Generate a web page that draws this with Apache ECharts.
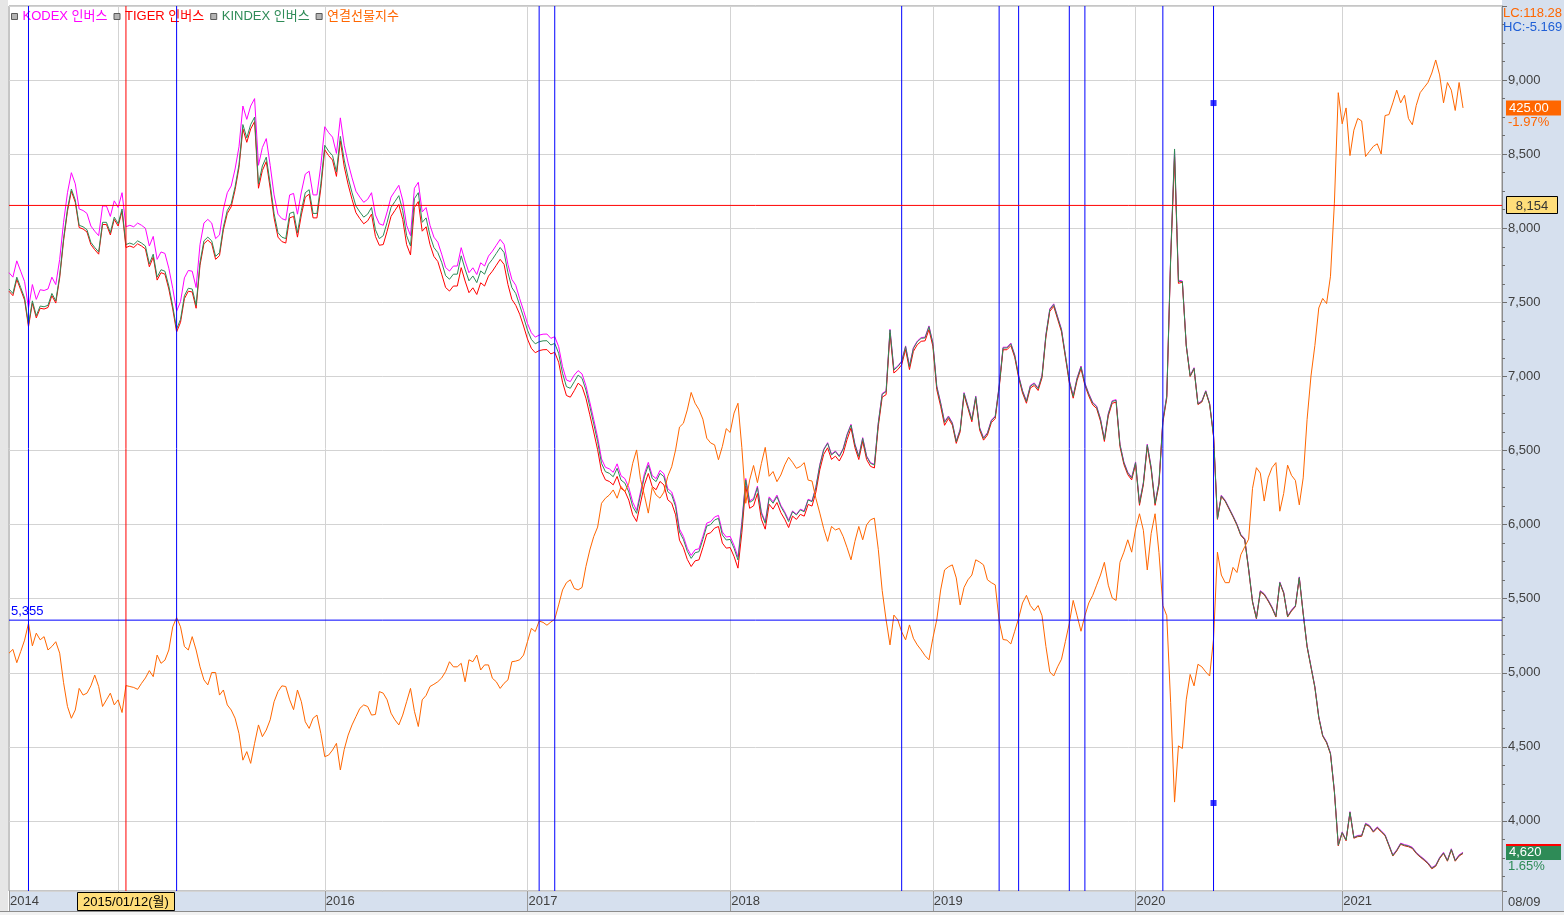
<!DOCTYPE html>
<html lang="ko">
<head>
<meta charset="utf-8">
<title>인버스 ETF / 연결선물지수</title>
<script src="https://cdn.jsdelivr.net/npm/echarts@6/dist/echarts.min.js"></script>
<style>
html,body{margin:0;padding:0;background:#ffffff;overflow:hidden;}
#chart{width:1564px;height:915px;}
</style>
</head>
<body>
<div id="chart"></div>
<script>
// ---------- categories (weekly bars) ----------
const firstWeek = '2014/06/16';
const slotCount = 384;               // weekly slots on the axis (incl. empty right margin)
const categories = (function () {
  const out = [];
  const p = firstWeek.split('/').map(Number);
  let t = Date.UTC(p[0], p[1] - 1, p[2]);
  for (let i = 0; i < slotCount; i++) {
    const d = new Date(t);
    out.push(d.getUTCFullYear() + '/' + String(d.getUTCMonth() + 1).padStart(2, '0') + '/' + String(d.getUTCDate()).padStart(2, '0'));
    t += 7 * 86400000;
  }
  return out;
})();

// ---------- tick labels ----------
const yearTickIdx = [0, 28, 81, 133, 185, 237, 289, 342];
const yearTickLabels = ['2014', '2015', '2016', '2017', '2018', '2019', '2020', '2021'];

// ---------- series names / colours ----------
const seriesNames = ['KODEX 인버스', 'TIGER 인버스', 'KINDEX 인버스', '연결선물지수'];
const seriesColors = ['#ff00ff', '#ff0000', '#2e8b57', '#ff6600'];

// ---------- values (weekly) ----------
const kodex = [
7700,7670,7780,7710,7640,7460,7620,7520,7585,7580,
7590,7670,7620,7790,8040,8240,8375,8300,8130,8120,
8100,8015,7980,7950,8150,8150,8080,8185,8140,8240,
8010,8020,8010,8035,8020,8000,7880,7945,7790,7840,
7830,7730,7595,7440,7505,7665,7715,7710,7600,7890,
8035,8060,8035,7930,7955,8130,8240,8285,8400,8550,
8825,8735,8825,8875,8425,8545,8605,8425,8225,8095,
8065,8055,8225,8235,8095,8245,8365,8385,8225,8225,
8425,8685,8645,8615,8505,8745,8560,8440,8340,8250,
8210,8175,8195,8240,8090,8030,8020,8110,8210,8250,
8290,8190,8020,7950,8270,8310,8110,8140,8020,7940,
7906,7825,7735,7711,7745,7745,7869,7779,7700,7733,
7688,7767,7745,7812,7845,7885,7925,7891,7755,7655,
7615,7525,7445,7358,7295,7265,7279,7285,7286,7257,
7268,7201,7066,6976,6965,7009,7039,7017,6938,6826,
6710,6590,6443,6387,6376,6353,6410,6330,6310,6250,
6151,6096,6220,6343,6420,6332,6310,6366,6343,6242,
6220,6141,5970,5920,5840,5792,5830,5837,5920,6010,
6020,6051,6062,5950,5916,5920,5860,5781,6020,6311,
6160,6176,6260,6086,6019,6187,6154,6199,6131,6086,
6030,6092,6070,6104,6092,6171,6160,6255,6405,6509,
6553,6475,6497,6464,6515,6610,6677,6545,6464,6587,
6464,6418,6407,6688,6885,6902,7318,7048,7071,7104,
7206,7071,7194,7239,7262,7265,7341,7228,6936,6823,
6695,6733,6688,6565,6643,6891,6801,6711,6868,6655,
6587,6621,6705,6733,6936,7197,7197,7225,7146,7008,
6905,6836,6939,6956,6922,7008,7283,7456,7490,7404,
7318,7146,6974,6870,6991,7070,6956,6885,6825,6801,
6715,6578,6750,6836,6843,6543,6423,6354,6319,6423,
6147,6285,6543,6388,6147,6285,6705,6870,7805,8520,
7650,7644,7214,7007,7059,6818,6835,6904,6818,6604,
6043,6198,6164,6112,6060,6004,5934,5905,5704,5484,
5372,5554,5534,5492,5444,5384,5613,5544,5384,5424,
5454,5647,5404,5182,5044,4907,4704,4580,4535,4459,
4204,3840,3926,3874,4063,3891,3902,3904,3984,3970,
3932,3960,3934,3908,3840,3771,3805,3850,3840,3834,
3822,3788,3764,3743,3719,3685,3702,3754,3788,3736,
3812,3736,3771,3788
];
const tiger = [
7575,7545,7655,7585,7515,7335,7495,7395,7460,7455,
7465,7545,7495,7665,7915,8115,8250,8175,8005,7995,
7975,7890,7855,7825,8025,8025,7955,8060,8015,8115,
7870,7880,7870,7895,7880,7860,7740,7805,7650,7700,
7690,7590,7455,7300,7365,7525,7575,7570,7460,7750,
7895,7920,7895,7790,7815,7990,8100,8145,8260,8410,
8670,8580,8670,8720,8270,8390,8450,8270,8070,7940,
7910,7900,8070,8080,7940,8090,8210,8230,8070,8070,
8270,8530,8490,8460,8350,8590,8415,8295,8195,8105,
8065,8030,8050,8095,7945,7885,7890,7980,8080,8120,
8160,8060,7890,7820,8140,8180,7980,8010,7890,7810,
7776,7690,7600,7576,7610,7610,7734,7644,7565,7598,
7553,7632,7610,7677,7710,7750,7790,7756,7620,7520,
7480,7420,7340,7253,7190,7160,7174,7180,7181,7152,
7163,7096,6961,6871,6860,6904,6954,6932,6853,6741,
6625,6505,6358,6302,6291,6268,6325,6245,6225,6165,
6066,6021,6145,6268,6345,6257,6235,6291,6268,6167,
6145,6066,5895,5845,5765,5717,5755,5762,5845,5935,
5945,5976,5987,5875,5841,5845,5785,5706,5945,6261,
6110,6126,6210,6036,5969,6137,6104,6149,6081,6036,
5980,6057,6035,6069,6057,6136,6125,6220,6370,6474,
6518,6440,6462,6429,6480,6575,6652,6520,6439,6562,
6439,6393,6382,6663,6860,6877,7293,7023,7046,7079,
7181,7046,7169,7214,7237,7240,7316,7203,6911,6798,
6670,6716,6671,6548,6626,6874,6784,6694,6851,6638,
6570,6604,6688,6716,6919,7180,7180,7208,7129,6991,
6888,6819,6922,6939,6905,6991,7266,7439,7473,7387,
7301,7129,6957,6853,6974,7053,6939,6868,6808,6784,
6698,6561,6733,6819,6826,6526,6406,6337,6302,6406,
6130,6268,6526,6371,6130,6268,6688,6853,7788,8480,
7628,7636,7206,6999,7051,6810,6827,6896,6810,6596,
6035,6190,6156,6104,6052,5996,5926,5897,5696,5476,
5364,5546,5526,5484,5436,5376,5605,5536,5376,5416,
5446,5639,5396,5174,5036,4899,4696,4572,4527,4451,
4196,3832,3918,3866,4055,3883,3894,3896,3976,3962,
3924,3952,3926,3900,3832,3763,3797,3842,3832,3826,
3814,3780,3756,3735,3711,3677,3694,3746,3780,3728,
3804,3728,3763,3780
];
const kindex = [
7590,7560,7670,7600,7530,7350,7510,7410,7475,7470,
7480,7560,7510,7680,7930,8130,8265,8190,8020,8010,
7990,7905,7870,7840,8040,8040,7970,8075,8030,8130,
7890,7900,7890,7915,7900,7880,7760,7825,7670,7720,
7710,7610,7475,7320,7385,7545,7595,7590,7480,7770,
7915,7940,7915,7810,7835,8010,8120,8165,8280,8430,
8700,8610,8700,8750,8300,8420,8480,8300,8100,7970,
7940,7930,8100,8110,7970,8120,8240,8260,8100,8100,
8300,8560,8520,8490,8380,8620,8460,8340,8240,8150,
8110,8075,8095,8140,7990,7930,7950,8040,8140,8180,
8220,8120,7950,7880,8200,8240,8040,8070,7950,7870,
7836,7770,7680,7656,7690,7690,7814,7724,7645,7678,
7633,7712,7690,7757,7790,7830,7870,7836,7700,7600,
7560,7480,7400,7313,7250,7220,7234,7240,7241,7212,
7223,7156,7021,6931,6920,6964,7009,6987,6908,6796,
6680,6560,6413,6357,6346,6323,6380,6300,6280,6220,
6121,6076,6200,6323,6400,6312,6290,6346,6323,6222,
6200,6121,5950,5900,5820,5772,5810,5817,5900,5990,
6000,6031,6042,5930,5896,5900,5840,5761,6000,6301,
6150,6166,6250,6076,6009,6177,6144,6189,6121,6076,
6020,6087,6065,6099,6087,6166,6155,6250,6400,6504,
6548,6470,6492,6459,6510,6605,6672,6540,6459,6582,
6459,6413,6402,6683,6880,6897,7313,7043,7066,7099,
7201,7066,7189,7234,7257,7260,7336,7223,6931,6818,
6690,6728,6683,6560,6638,6886,6796,6706,6863,6650,
6582,6616,6700,6728,6931,7192,7192,7220,7141,7003,
6900,6831,6934,6951,6917,7003,7278,7451,7485,7399,
7313,7141,6969,6865,6986,7065,6951,6880,6820,6796,
6710,6573,6745,6831,6838,6538,6418,6349,6314,6418,
6142,6280,6538,6383,6142,6280,6700,6865,7800,8535,
7640,7640,7210,7003,7055,6814,6831,6900,6814,6600,
6039,6194,6160,6108,6056,6000,5930,5901,5700,5480,
5368,5550,5530,5488,5440,5380,5609,5540,5380,5420,
5450,5643,5400,5178,5040,4903,4700,4576,4531,4455,
4200,3836,3922,3870,4059,3887,3898,3900,3980,3966,
3928,3956,3930,3904,3836,3767,3801,3846,3836,3830,
3818,3784,3760,3739,3715,3681,3698,3750,3784,3732,
3808,3732,3767,3784
];
const futures = [
253.3,254.5,250.3,253.8,257.4,262.7,255.6,259.6,257.5,258.5,
254.3,255.4,256.9,253.3,244.0,236.5,232.8,235.4,242.2,240.1,
240.7,243.0,246.4,242.8,236.5,238.6,240.7,237.0,238.6,234.6,
243.1,242.8,242.5,241.9,243.8,245.5,247.8,245.9,252.7,250.1,
251.1,254.3,261.6,264.5,261.6,255.4,254.3,258.5,254.3,249.0,
244.9,243.3,247.2,247.2,240.1,241.7,237.0,235.4,232.8,228.0,
219.6,222.3,218.6,224.9,230.7,227.0,229.1,232.3,238.0,241.2,
243.0,242.8,238.6,235.5,241.7,238.0,231.7,229.6,232.8,233.8,
228.0,220.7,221.2,222.8,224.9,216.5,223.0,227.5,230.7,233.3,
235.9,237.0,236.5,233.8,234.0,241.2,240.7,238.6,234.4,232.3,
230.7,233.8,238.0,242.2,235.0,230.2,238.6,240.0,242.8,243.5,
244.3,245.5,247.5,250.6,249.0,249.0,250.1,244.3,251.2,250.6,
252.7,248.0,249.6,249.6,245.4,244.3,242.2,243.8,244.9,250.6,
250.8,251.2,252.7,256.9,261.1,260.1,263.4,263.0,262.1,263.1,
264.0,268.5,273.2,275.5,276.4,273.7,273.2,274.0,280.6,285.8,
290.0,293.0,300.5,302.1,303.1,304.7,302.1,305.8,304.2,306.8,
313.1,317.3,308.0,303.0,297.4,305.5,303.1,302.1,304.0,309.0,
312.0,317.3,324.5,325.7,329.9,335.4,332.0,330.0,327.0,321.0,
319.5,318.9,314.2,318.4,324.0,322.8,328.9,332.0,318.0,300.5,
307.8,312.4,307.0,313.0,318.1,309.0,310.5,307.3,309.4,312.6,
315.0,313.4,311.5,312.1,313.3,307.8,307.5,302.0,297.4,292.5,
288.5,293.2,292.1,292.6,290.0,286.5,282.7,288.5,293.2,289.0,
293.7,295.3,295.8,286.0,273.0,263.8,255.9,265.3,263.8,260.0,
257.5,262.2,258.0,255.9,254.3,252.5,251.2,258.0,263.8,273.2,
279.5,280.5,281.1,277.0,268.5,274.0,276.4,277.9,282.7,282.0,
281.1,276.4,275.5,274.8,263.5,257.6,257.4,256.2,260.2,264.3,
269.1,271.5,268.3,266.7,268.3,265.1,255.4,247.4,246.1,249.0,
251.4,257.0,262.7,269.9,265.1,260.2,265.1,269.1,271.5,274.7,
277.9,281.9,274.7,270.7,269.9,281.9,285.1,289.0,285.1,292.4,
297.2,292.0,279.5,291.0,297.2,285.0,268.3,265.1,237.7,206.4,
224.1,223.3,238.6,246.6,243.0,249.8,249.0,247.4,246.1,257.8,
285.1,277.9,275.5,275.5,280.3,278.7,284.3,286.8,289.2,305.2,
311.7,310.0,301.2,308.5,311.7,313.3,298.0,303.6,312.5,309.3,
307.7,300.0,308.5,326.9,340.6,350.2,362.0,365.0,363.4,372.0,
395.0,429.8,420.0,425.0,410.0,418.0,421.7,420.9,409.7,411.3,
412.9,413.7,410.5,422.6,422.9,426.6,430.6,426.6,429.0,421.7,
419.7,425.8,429.8,431.4,433.0,436.0,440.1,435.4,426.6,433.0,
430.6,424.2,433.0,425.0
];

// ---------- reference lines / marks ----------
const blueVLineIdx = [5, 43, 136, 140, 229, 254, 259, 272, 276, 296, 309];
const redVLineIdx = 30;
const redHLineVal = 8154;
const blueHLineVal = 5355;
const handleIdx = 309;
const handleVals = [8845, 4121];

// ---------- axis range ----------
const yMin = 3527, yMax = 9500;          // main (ETF) scale shown on the right
const futMin = 178.4, futMax = 457.1;    // overlay scale of 연결선물지수

// ---------- header / end texts ----------
const headerTexts = ['LC:118.28', 'HC:-5.169'];
const kindexEndText = '4,620';
const endPctTexts = ['-1.97%', '1.65%'];   // 연결선물지수, KINDEX 인버스

// ---------- chart ----------
const FONT = '"Liberation Sans", "Noto Sans CJK KR", sans-serif';
const font13 = '13px ' + FONT;
const yearIdxSet = new Set(yearTickIdx);
const yearLabelByIdx = {};
yearTickIdx.forEach((ix, k) => { yearLabelByIdx[ix] = yearTickLabels[k]; });

const chart = echarts.init(document.getElementById('chart'), null, { renderer: 'canvas' });

function lineSeries(k, data, extra) {
  return Object.assign({
    type: 'line', name: seriesNames[k], data: data,
    showSymbol: false, symbol: 'none', silent: true, animation: false,
    color: seriesColors[k],
    lineStyle: { width: 1, color: seriesColors[k] },
    emphasis: { disabled: true }
  }, extra || {});
}
function refSeries(name, data, color, z) {
  return {
    type: 'line', name: name, data: data, z: z,
    showSymbol: false, symbol: 'none', silent: true, animation: false,
    connectNulls: false, color: color,
    lineStyle: { width: 1, color: color, type: 'solid' },
    emphasis: { disabled: true }
  };
}
// vertical segments from axis bottom to top, broken by '-' between them
function verticalData(idxList) {
  const out = [];
  idxList.forEach((ix, k) => {
    if (k > 0) out.push('-');
    out.push([ix, yMin], [ix, yMax]);
  });
  return out;
}

const option = {
  animation: false,
  backgroundColor: '#ffffff',
  textStyle: { fontFamily: FONT, fontSize: 13 },
  legend: {
    left: 6, top: 5, itemWidth: 6, itemHeight: 6, itemGap: 6,
    selectedMode: false,
    textStyle: { fontFamily: FONT, fontSize: 13 },
    data: seriesNames.map((n, k) => ({
      name: n, icon: 'rect',
      itemStyle: { color: '#b4b4b4', borderColor: '#5a5a5a', borderWidth: 1 },
      lineStyle: { width: 0, opacity: 0 },
      textStyle: { color: seriesColors[k] }
    }))
  },
  grid: {
    left: 9, right: 62, top: 6, bottom: 24,
    show: true, borderColor: '#8c8c8c', borderWidth: 1, backgroundColor: '#ffffff',
    containLabel: false, outerBoundsMode: 'none'
  },
  xAxis: {
    type: 'category', data: categories, boundaryGap: false,
    axisLine: { show: false },
    axisTick: { show: true, interval: (i) => yearIdxSet.has(i), length: 20, lineStyle: { color: '#9a9a9a' } },
    axisLabel: {
      show: true, interval: (i) => yearIdxSet.has(i),
      formatter: (v, i) => yearLabelByIdx[i] || '',
      align: 'left', margin: 4, padding: [0, 0, 0, 1],
      color: '#404040', fontSize: 13, fontFamily: FONT
    },
    splitLine: { show: true, interval: (i) => yearIdxSet.has(i) && i > 0, lineStyle: { color: '#d3d3d3', width: 1 } }
  },
  yAxis: [
    {
      type: 'value', position: 'right', min: yMin, max: yMax, splitNumber: 12,
      axisLine: { show: true, lineStyle: { color: '#8c8c8c' } },
      axisTick: { show: true, length: 5, lineStyle: { color: '#6e6e6e' } },
      minorTick: { show: true, splitNumber: 4, length: 3, lineStyle: { color: '#6e6e6e' } },
      axisLabel: { color: '#404040', fontSize: 13, fontFamily: FONT, margin: 6, showMinLabel: false, showMaxLabel: false },
      splitLine: { show: true, lineStyle: { color: '#d3d3d3' } }
    },
    { type: 'value', min: futMin, max: futMax, show: false, splitLine: { show: false } }
  ],
  series: [
    lineSeries(0, kodex, { z: 2 }),
    lineSeries(1, tiger, { z: 2 }),
    lineSeries(2, kindex, { z: 2 }),
    lineSeries(3, futures, { yAxisIndex: 1, z: 3 }),
    refSeries('_blueV', verticalData(blueVLineIdx), '#0000ff', 4),
    refSeries('_blueH', [[0, blueHLineVal], [slotCount - 1, blueHLineVal]], '#0000ff', 4),
    refSeries('_redV', verticalData([redVLineIdx]), '#ff0000', 4),
    refSeries('_redH', [[0, redHLineVal], [slotCount - 1, redHLineVal]], '#ff0000', 4),
    {
      type: 'scatter', name: '_handles', silent: true, z: 6,
      data: handleVals.map(v => [handleIdx, v]),
      symbol: 'rect', symbolSize: 6, itemStyle: { color: '#0000ff' },
      emphasis: { disabled: true }
    }
  ]
};

chart.setOption(option);

// ---------- panels, crosshair labels and end labels ----------
const lastFut = futures[futures.length - 1];
const lastKin = kindex[kindex.length - 1];
const fy = chart.convertToPixel({ yAxisIndex: 1 }, lastFut);
const gy = chart.convertToPixel({ yAxisIndex: 0 }, lastKin);
const redHy = chart.convertToPixel({ yAxisIndex: 0 }, redHLineVal);
const blueHy = chart.convertToPixel({ yAxisIndex: 0 }, blueHLineVal);
const redVx = chart.convertToPixel({ xAxisIndex: 0 }, redVLineIdx);
const lastDateLabel = categories[kindex.length - 1].slice(5);
const dateBoxText = categories[redVLineIdx] + '(월)';
const panelX = 1502;
const dateBoxW = 97;

chart.setOption({
  graphic: [
    { type: 'rect', z: -1, silent: true, shape: { x: 0, y: 0, width: 8, height: 915 }, style: { fill: '#e6e6e6' } },
    { type: 'rect', z: -1, silent: true, shape: { x: panelX, y: 0, width: 62, height: 891 }, style: { fill: '#d6e0ee' } },
    { type: 'rect', z: -1, silent: true, shape: { x: 9, y: 891, width: 1555, height: 20 }, style: { fill: '#d6e0ee' } },
    { type: 'rect', z: -1, silent: true, shape: { x: 0, y: 912, width: 1564, height: 3 }, style: { fill: '#f2f2f2' } },
    { type: 'line', z: 1, silent: true, shape: { x1: 0, y1: 911.5, x2: 1564, y2: 911.5 }, style: { stroke: '#8c8c8c', lineWidth: 1 } },
    { type: 'line', z: 1, silent: true, shape: { x1: panelX + 0.5, y1: 891, x2: panelX + 0.5, y2: 911 }, style: { stroke: '#8c8c8c', lineWidth: 1 } },
    { type: 'text', z: 5, silent: true, x: 1508, y: 902, style: { text: lastDateLabel, fill: '#404040', font: font13, verticalAlign: 'middle' } },
    { type: 'text', z: 5, silent: true, x: 1503, y: 13, style: { text: headerTexts[0], fill: '#ff6600', font: font13, verticalAlign: 'middle' } },
    { type: 'text', z: 5, silent: true, x: 1503, y: 27, style: { text: headerTexts[1], fill: '#1f5fd6', font: font13, verticalAlign: 'middle' } },
    // crosshair date box on the x band
    { type: 'rect', z: 12, silent: true, shape: { x: Math.round(redVx - dateBoxW / 2) + 0.5, y: 892.5, width: dateBoxW, height: 18 }, style: { fill: '#ffde7a', stroke: '#000000', lineWidth: 1 } },
    { type: 'text', z: 13, silent: true, x: redVx, y: 902, style: { text: dateBoxText, fill: '#000000', font: font13, align: 'center', verticalAlign: 'middle' } },
    // crosshair value box on the right panel
    { type: 'rect', z: 12, silent: true, shape: { x: 1506.5, y: Math.round(redHy) - 8.5, width: 51, height: 17 }, style: { fill: '#ffde7a', stroke: '#000000', lineWidth: 1 } },
    { type: 'text', z: 13, silent: true, x: 1532, y: redHy + 0.5, style: { text: echarts.format.addCommas(redHLineVal), fill: '#333333', font: font13, align: 'center', verticalAlign: 'middle' } },
    // level label of the blue horizontal line
    { type: 'text', z: 13, silent: true, x: 11, y: blueHy - 2, style: { text: echarts.format.addCommas(blueHLineVal), fill: '#0000ff', font: font13, verticalAlign: 'bottom' } },
    // end value boxes
    { type: 'rect', z: 10, silent: true, shape: { x: 1506, y: fy - 7.5, width: 55, height: 15 }, style: { fill: '#ff6600' } },
    { type: 'text', z: 11, silent: true, x: 1509, y: fy, style: { text: lastFut.toFixed(2), fill: '#ffffff', font: font13, verticalAlign: 'middle' } },
    { type: 'text', z: 11, silent: true, x: 1508, y: fy + 14, style: { text: endPctTexts[0], fill: '#ff6600', font: font13, verticalAlign: 'middle' } },
    { type: 'rect', z: 10, silent: true, shape: { x: 1506, y: gy - 9, width: 55, height: 2 }, style: { fill: '#ff0000' } },
    { type: 'rect', z: 10, silent: true, shape: { x: 1506, y: gy - 7, width: 55, height: 14 }, style: { fill: '#2e8b57' } },
    { type: 'text', z: 11, silent: true, x: 1509, y: gy, style: { text: kindexEndText, fill: '#ffffff', font: font13, verticalAlign: 'middle' } },
    { type: 'text', z: 11, silent: true, x: 1508, y: gy + 14, style: { text: endPctTexts[1], fill: '#2e8b57', font: font13, verticalAlign: 'middle' } }
  ]
});
</script>
</body>
</html>
